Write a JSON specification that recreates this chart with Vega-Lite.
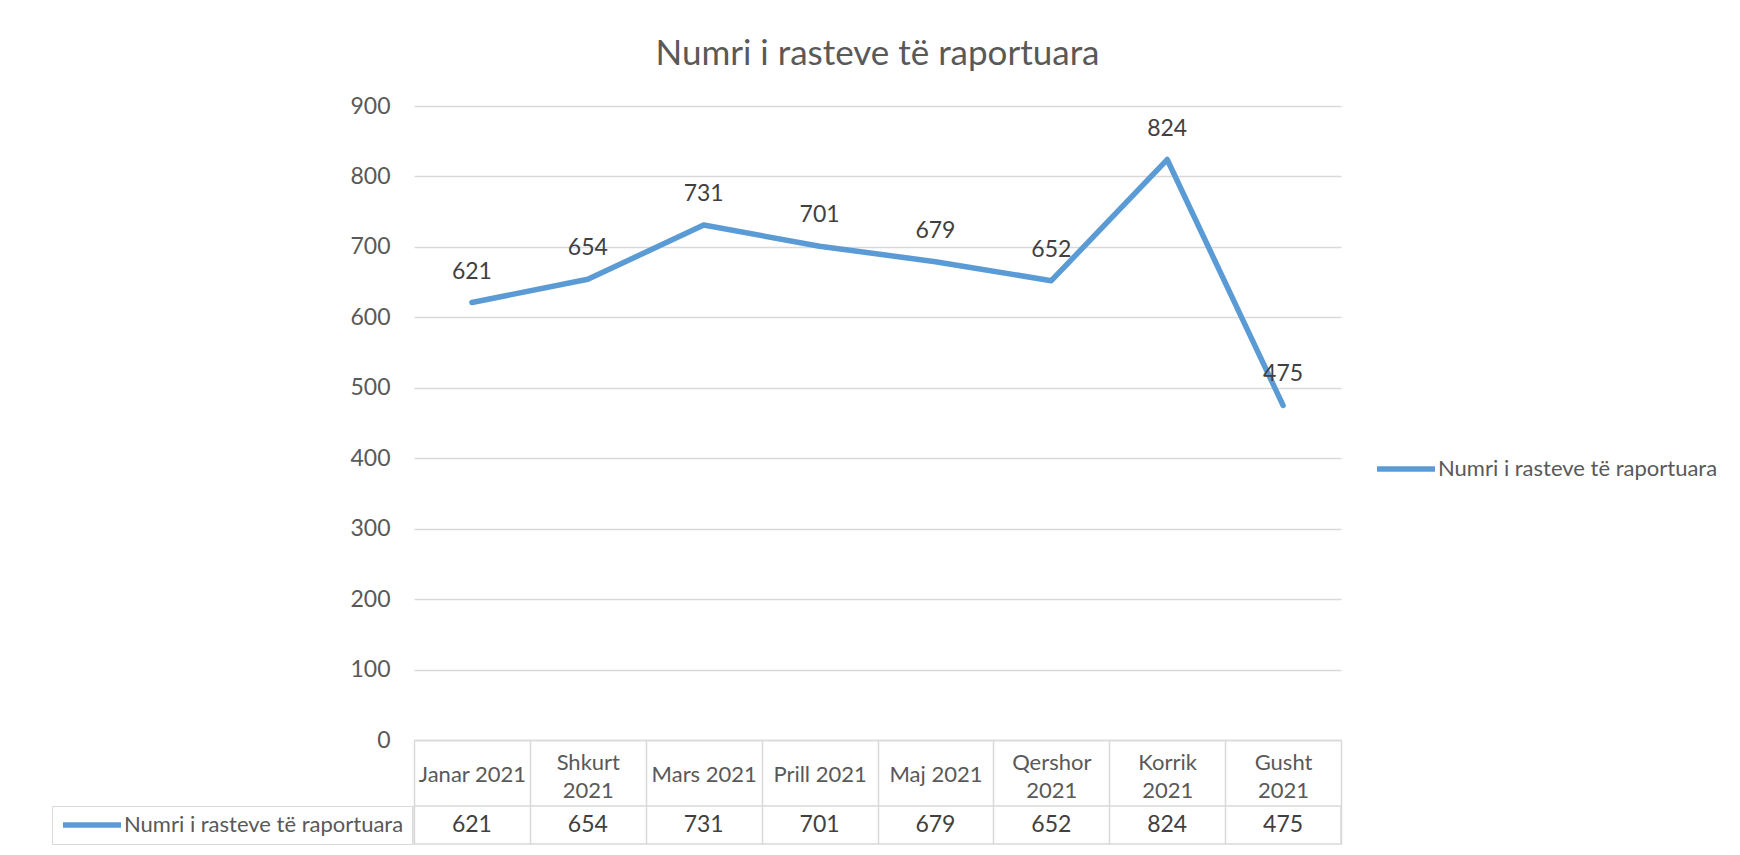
{
  "$schema": "https://vega.github.io/schema/vega-lite/v6.json",
  "padding": {"left": 50, "top": 37, "right": 0, "bottom": 0},
  "autosize": {"type": "pad"},
  "background": "white",
  "config": {
    "font": "Lato",
    "view": {"stroke": null}
  },
  "spacing": 66,
  "bounds": "flush",
  "datasets": {
    "d": [
      {"month": "Janar 2021", "value": 621},
      {"month": "Shkurt 2021", "value": 654},
      {"month": "Mars 2021", "value": 731},
      {"month": "Prill 2021", "value": 701},
      {"month": "Maj 2021", "value": 679},
      {"month": "Qershor 2021", "value": 652},
      {"month": "Korrik 2021", "value": 824},
      {"month": "Gusht 2021", "value": 475}
    ]
  },
  "vconcat": [
    {
      "width": 927,
      "height": 634,
      "title": {
        "text": "Numri i rasteve të raportuara",
        "fontSize": 35,
        "fontWeight": "normal",
        "color": "#595959",
        "anchor": "middle",
        "frame": "group",
        "offset": 23
      },
      "data": {"name": "d"},
      "encoding": {
        "x": {
          "field": "month",
          "type": "ordinal",
          "sort": null,
          "axis": {
            "title": null,
            "orient": "bottom",
            "domain": true,
            "domainColor": "#d9d9d9",
            "domainWidth": 1.5,
            "ticks": true,
            "tickBand": "extent",
            "tickSize": 66,
            "tickColor": "#d9d9d9",
            "tickWidth": 1.5,
            "labelPadding": {"expr": "indexof(['Shkurt 2021','Qershor 2021','Korrik 2021','Gusht 2021'], datum.value) >= 0 ? -44 : -32"},
            "labelBaseline": "middle",
            "labelFontSize": 22,
            "labelColor": "#595959",
            "labelAngle": 0,
            "labelLineHeight": 28,
            "labelOverlap": false,
            "labelLimit": 0,
            "labelExpr": "indexof(['Shkurt 2021','Qershor 2021','Korrik 2021','Gusht 2021'], datum.label) >= 0 ? split(datum.label, ' ') : datum.label",
            "grid": false
          }
        },
        "y": {
          "field": "value",
          "type": "quantitative",
          "scale": {"domain": [0, 900], "nice": false},
          "axis": {
            "title": null,
            "domain": false,
            "ticks": false,
            "grid": true,
            "gridColor": "#d9d9d9",
            "gridWidth": 1.5,
            "values": [0, 100, 200, 300, 400, 500, 600, 700, 800, 900],
            "labelFontSize": 23,
            "labelColor": "#595959",
            "labelPadding": 24
          }
        }
      },
      "layer": [
        {
          "mark": {"type": "line", "strokeWidth": 5.5, "strokeCap": "round", "strokeJoin": "round"},
          "encoding": {
            "color": {
              "datum": "Numri i rasteve të raportuara",
              "scale": {"range": ["#5b9bd5"]},
              "legend": {
                "title": null,
                "orient": "none",
                "legendX": 960,
                "legendY": 352,
                "padding": 0,
                "symbolType": "stroke",
                "symbolSize": 3364,
                "symbolStrokeWidth": 5.5,
                "symbolOpacity": 1,
                "labelFontSize": 22,
                "labelColor": "#595959",
                "labelOffset": 0,
                "labelLimit": 0,
                "clipHeight": 22
              }
            }
          }
        },
        {
          "mark": {"type": "text", "dy": -31, "fontSize": 23, "color": "#404040", "baseline": "middle"},
          "encoding": {"text": {"field": "value", "type": "quantitative"}}
        }
      ]
    },
    {
      "width": 927,
      "height": 38,
      "view": {"stroke": "#d9d9d9", "strokeWidth": 1.5},
      "data": {"name": "d"},
      "encoding": {
        "x": {
          "field": "month",
          "type": "ordinal",
          "sort": null,
          "axis": {
            "title": null,
            "labels": false,
            "ticks": false,
            "domain": false,
            "grid": true,
            "tickBand": "extent",
            "gridColor": "#d9d9d9",
            "gridWidth": 1.5
          }
        }
      },
      "layer": [
        {
          "mark": {"type": "line", "opacity": 0, "strokeWidth": 5.5},
          "encoding": {
            "color": {
              "datum": "Numri i rasteve të raportuara",
              "scale": {"range": ["#5b9bd5"]},
              "legend": {
                "title": null,
                "orient": "none",
                "legendX": -362,
                "legendY": 0,
                "padding": 8,
                "strokeColor": "#d9d9d9",
                "symbolType": "stroke",
                "symbolSize": 3364,
                "symbolStrokeWidth": 5.5,
                "symbolOpacity": 1,
                "labelFontSize": 22,
                "labelColor": "#595959",
                "labelOffset": 0,
                "labelLimit": 0,
                "clipHeight": 22
              }
            }
          }
        },
        {
          "mark": {"type": "text", "fontSize": 23, "color": "#404040", "baseline": "middle"},
          "encoding": {"text": {"field": "value", "type": "quantitative"}}
        }
      ]
    }
  ],
  "resolve": {
    "scale": {"color": "independent"},
    "legend": {"color": "independent"}
  }
}
